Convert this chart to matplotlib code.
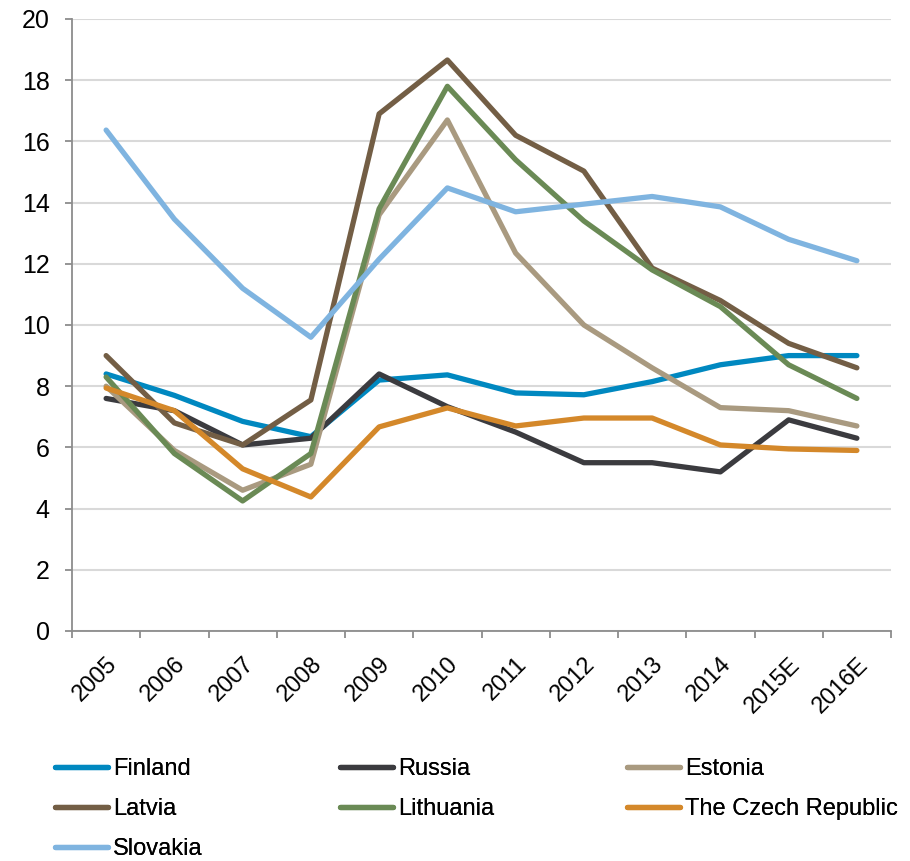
import matplotlib
matplotlib.use("Agg")
import matplotlib.pyplot as plt
import numpy as np

plt.rcParams['font.family'] = ['Liberation Sans', 'DejaVu Sans']

years = ["2005", "2006", "2007", "2008", "2009", "2010", "2011", "2012",
         "2013", "2014", "2015E", "2016E"]

finland   = [8.4, 7.7, 6.85, 6.35, 8.2, 8.37, 7.78, 7.72, 8.15, 8.7, 9.0, 9.0]
russia    = [7.6, 7.2, 6.08, 6.3, 8.4, 7.33, 6.5, 5.5, 5.5, 5.2, 6.9, 6.3]
estonia   = [8.0, 5.9, 4.6, 5.45, 13.6, 16.7, 12.35, 10.0, 8.6, 7.3, 7.2, 6.7]
latvia    = [9.0, 6.8, 6.08, 7.55, 16.9, 18.66, 16.2, 15.03, 11.86, 10.8, 9.4, 8.6]
lithuania = [8.3, 5.8, 4.25, 5.8, 13.8, 17.8, 15.4, 13.4, 11.8, 10.6, 8.7, 7.6]
czech     = [7.94, 7.2, 5.3, 4.38, 6.67, 7.29, 6.7, 6.96, 6.96, 6.08, 5.95, 5.9]
slovakia  = [16.37, 13.46, 11.2, 9.6, 12.15, 14.48, 13.7, 13.95, 14.2, 13.86, 12.8, 12.1]

series = [
    ("Finland", finland, "#0088C0"),
    ("Russia", russia, "#3B3B3F"),
    ("Estonia", estonia, "#A99A80"),
    ("Latvia", latvia, "#735E45"),
    ("Lithuania", lithuania, "#6A8A55"),
    ("The Czech Republic", czech, "#D4882A"),
    ("Slovakia", slovakia, "#7FB4E0"),
]

fig = plt.figure(figsize=(9.10, 8.61), dpi=100)
ax = fig.add_axes([72 / 910, 1 - 631 / 861, (891 - 72) / 910, (631 - 19) / 861])

x = np.arange(len(years))
lines = []
for name, vals, color in series:
    ln, = ax.plot(x, vals, color=color, lw=3.8, label=name,
                  solid_capstyle='round', solid_joinstyle='round', zorder=3)
    lines.append(ln)

ax.set_xlim(-0.5, len(years) - 0.5)
ax.set_ylim(0, 20)
ax.set_yticks(np.arange(0, 21, 2))
ax.yaxis.grid(True, color="#D9D9D9", lw=1.5, zorder=0)
ax.set_axisbelow(True)

for side in ("top", "right"):
    ax.spines[side].set_visible(False)
for side in ("left", "bottom"):
    ax.spines[side].set_color("#8C8C8C")
    ax.spines[side].set_linewidth(1.3)

ax.tick_params(axis='y', direction='out', length=5, width=1.3, color="#8C8C8C",
               labelsize=18, pad=11)
ax.set_xticks(x)
ax.set_xticklabels(years, rotation=45, ha='right', rotation_mode='anchor')
ax.tick_params(axis='x', which='major', length=0, labelsize=17, pad=16)
ax.set_xticks(np.arange(-0.5, len(years), 1), minor=True)
ax.tick_params(axis='x', which='minor', direction='out', length=5, width=1.3,
               color="#8C8C8C")

# Legend laid out as three evenly spaced columns
col_x = [55, 340, 627]
cols = [[0, 3, 6], [1, 4], [2, 5]]
for cx, idxs in zip(col_x, cols):
    leg = fig.legend([lines[i] for i in idxs], [series[i][0] for i in idxs],
                     loc='upper left', bbox_to_anchor=(cx / 910, 1 - 758 / 861),
                     frameon=False, fontsize=17, handlelength=2.25,
                     handletextpad=0.2, labelspacing=0.77, borderpad=0,
                     borderaxespad=0)
    fig.add_artist(leg)

fig.savefig("out.png", dpi=100)
